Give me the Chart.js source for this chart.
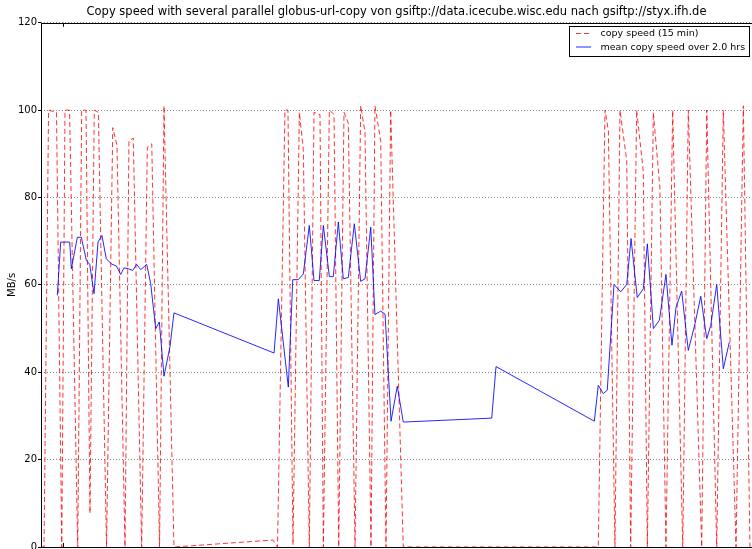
<!DOCTYPE html>
<html>
<head>
<meta charset="utf-8">
<script src="https://cdn.jsdelivr.net/npm/chart.js@4"></script>
<style>
  body { margin: 0; background: #fff; }
  #wrap { width: 752px; height: 549px; }
</style>
</head>
<body>
<div id="wrap"><canvas id="myChart"></canvas></div>
<script>
// time axis in hours from the left edge of the plot
let copyHours = [0, 0.25, 0.63, 1.29, 1.73, 2.0, 2.38, 3.06, 3.39, 3.75, 4.08, 4.44, 4.78, 5.46,
                 5.98, 6.33, 7.0, 7.33, 7.69, 8.39, 8.86, 9.23, 9.88, 10.25, 11.08,
                 19.33, 19.71, 20.33, 20.58, 21.0, 21.53, 21.86, 22.36, 22.75, 23.25, 23.53,
                 24.03, 24.42, 24.81, 25.25, 25.61, 26.17, 26.64, 27.0, 27.5, 27.83, 28.31,
                 28.75, 29.14, 30.19,
                 46.44, 47.0, 47.28, 47.83, 48.25, 48.81, 49.14, 49.64, 50.19, 50.53, 51.03,
                 51.58, 52.08, 52.64, 53.48, 53.94, 55.06, 55.48, 56.31, 56.86, 57.92, 58.53, 59.08];
let copySpeed = [0, 0, 100, 99.5, 0, 100, 100, 0, 100, 100, 7.7, 100, 99.5, 0,
                 96, 92, 0, 93, 93.6, 0, 91.5, 92.3, 0, 101, 0,
                 1.6, 0, 100, 100, 0.5, 99.5, 91, 0, 99.5, 99, 0,
                 100, 99, 0, 99.5, 97, 0, 101, 95, 0, 101, 93,
                 0, 100, 0,
                 0, 100, 95.3, 0, 100, 88.5, 0, 100, 86, 0, 99.5,
                 82, 0, 100, 0, 100, 0, 100, 0, 100, 0, 101, 0];

let meanHours = [1.36, 1.64, 2.39, 2.53, 3.03, 3.36, 3.78, 4.06, 4.42, 4.75, 5.08, 5.44, 5.86,
                 6.29, 6.64, 6.92, 7.28, 7.64, 7.97, 8.31, 8.81, 9.14, 9.56, 9.86, 10.25,
                 10.75, 11.08,
                 19.42, 19.78, 20.61, 20.98, 21.44, 21.86, 22.36, 22.75, 23.19, 23.53, 24.03,
                 24.36, 24.78, 25.19, 25.61, 26.11, 26.64, 27.0, 27.48, 27.83, 28.31, 28.67,
                 29.17, 29.69, 30.19,
                 37.56, 37.92,
                 46.11, 46.44, 46.86, 47.19, 47.75, 48.31, 48.81, 49.17, 49.69, 50.19, 50.53,
                 51.03, 51.53, 52.08, 52.58, 52.92, 53.39, 53.94, 54.5, 54.98, 55.48, 55.81,
                 56.31, 56.86, 57.36];
let meanSpeed = [57.6, 69.8, 69.8, 63.7, 70.9, 70.9, 65.6, 64.7, 58, 69.8, 71.3, 66, 64.8,
                 64.3, 62.4, 63.9, 63.7, 63.3, 64.7, 63.5, 64.7, 60.3, 50, 51.5, 39.1,
                 45.9, 53.6,
                 44.4, 56.8, 36.6, 61.2, 61.2, 62.5, 73.6, 61, 61, 73.6, 61.9,
                 61.9, 74.4, 61.4, 61.7, 74, 60.8, 61.4, 73.2, 53.2, 54, 53.3,
                 28.8, 36.8, 28.6,
                 29.5, 41.3,
                 28.8, 37, 35.1, 35.9, 60.1, 58.4, 60.1, 70.6, 57.1, 59.1, 69.4,
                 50, 51.9, 62.4, 46.2, 54.9, 58.6, 45, 51.1, 57.4, 47.7, 50.7,
                 60.1, 40.8, 46.9];

let xTickHours = [1.83];

const framePlugin = {
    id: 'frame',
    afterDatasetsDraw(chart) {
        const ctx = chart.ctx, a = chart.chartArea;
        const xs = chart.scales.x;
        ctx.save();
        ctx.strokeStyle = '#000';
        ctx.lineWidth = 1;
        ctx.setLineDash([]);
        ctx.strokeRect(Math.round(a.left) + 0.5, Math.round(a.top) + 0.5,
                       a.right - a.left + 2, Math.round(a.bottom - a.top));
        ctx.beginPath();
        xTickHours.forEach(h => {
            const x = Math.round(xs.getPixelForValue(h)) + 0.5;
            ctx.moveTo(x, a.bottom); ctx.lineTo(x, a.bottom - 4);
            ctx.moveTo(x, a.top); ctx.lineTo(x, a.top + 4);
        });
        ctx.stroke();

        // legend box
        const bx = 569.5, by = 26.5, bw = 180, bh = 30;
        ctx.fillStyle = '#fff';
        ctx.fillRect(bx, by, bw, bh);
        ctx.strokeRect(bx, by, bw, bh);
        ctx.font = '9.5px "DejaVu Sans"';
        ctx.textBaseline = 'middle';
        ctx.fillStyle = '#000';
        chart.data.datasets.forEach((ds, i) => {
            const y = 33.5 + i * 13.5;
            ctx.beginPath();
            ctx.strokeStyle = ds.borderColor;
            ctx.setLineDash(ds.borderDash || []);
            ctx.moveTo(576, y); ctx.lineTo(591, y);
            ctx.stroke();
            ctx.setLineDash([]);
            ctx.fillText(ds.label, 600.5, y + 0.5);
        });
        ctx.restore();
    }
};

new Chart("myChart", {
    type: "line",
    data: {
        datasets: [{
            label: 'copy speed (15 min)',
            data: copyHours.map((h, i) => ({x: h, y: copySpeed[i]})),
            borderColor: 'rgba(255,0,0,0.8)',
            borderDash: [5, 3],
            borderWidth: 1,
            pointRadius: 0,
            fill: false,
            order: 1
        }, {
            label: 'mean copy speed over 2.0 hrs',
            data: meanHours.map((h, i) => ({x: h, y: meanSpeed[i]})),
            borderColor: 'rgba(0,0,255,0.85)',
            borderWidth: 1,
            pointRadius: 0,
            fill: false,
            order: 0
        }]
    },
    options: {
        responsive: true,
        maintainAspectRatio: false,
        animation: false,
        layout: { padding: { top: 0, left: 0, right: 0, bottom: 0 }, autoPadding: false },
        plugins: {
            legend: { display: false },
            tooltip: { enabled: false },
            title: {
                display: true,
                fullSize: false,
                text: 'Copy speed with several parallel globus-url-copy von gsiftp://data.icecube.wisc.edu nach gsiftp://styx.ifh.de',
                color: '#000',
                font: { family: 'DejaVu Sans', size: 11.5, weight: 'normal' },
                padding: { top: 5, bottom: 4 }
            }
        },
        scales: {
            x: {
                type: 'linear',
                min: 0,
                max: 59.25,
                ticks: { display: false },
                grid: { display: false, drawTicks: false },
                border: { display: false },
                afterFit(scale) { scale.height = 2; }
            },
            y: {
                min: 0,
                max: 120,
                ticks: {
                    stepSize: 20,
                    color: '#000',
                    padding: 1,
                    font: { family: 'DejaVu Sans', size: 10 }
                },
                grid: {
                    color: '#888',
                    lineWidth: 1,
                    drawTicks: true,
                    tickLength: 3,
                    tickColor: '#000',
                    tickBorderDash: []
                },
                border: { display: false, dash: [1, 2] },
                title: {
                    display: true,
                    text: 'MB/s',
                    color: '#000',
                    font: { family: 'DejaVu Sans', size: 10 },
                    padding: { top: 6, bottom: 0 }
                },
                afterFit(scale) {
                    scale.width = 41;
                    scale.paddingTop = 0;
                    scale.paddingBottom = 0;
                }
            }
        }
    },
    plugins: [framePlugin]
});
</script>
</body>
</html>
